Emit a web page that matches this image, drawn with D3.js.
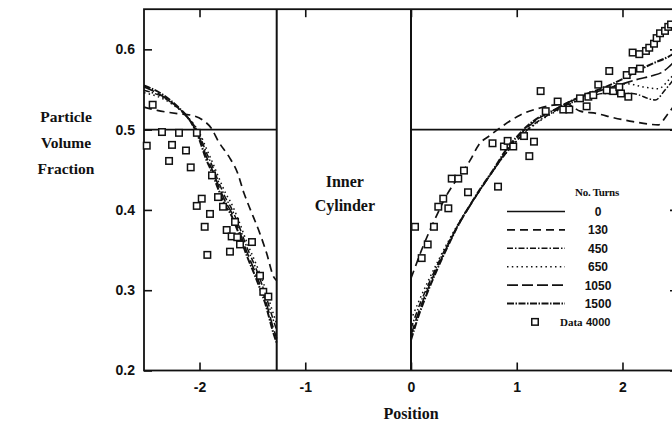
<!DOCTYPE html>
<html>
<head>
<meta charset="utf-8">
<script src="https://cdn.jsdelivr.net/npm/d3@7"></script>
<style>
	body { margin: 0; background: #fff; }
	svg { display: block; }
	.tick text { font-family: "Liberation Sans", Arial, sans-serif; font-weight: bold; font-size: 14px; fill: #111; }
	.serif { font-family: "Liberation Serif", "Times New Roman", serif; font-weight: bold; fill: #111; }
	.sans { font-family: "Liberation Sans", Arial, sans-serif; font-weight: bold; fill: #111; }
</style>
</head>
<body>
<div id="chart"></div>
<script>
//////////////////////////// data /////////////////////////////////////////

const turns = ["0", "130", "450", "650", "1050", "1500"];
const xTicks = [-2, -1, 0, 1, 2];
const yTicks = [0.2, 0.3, 0.4, 0.5, 0.6];
const innerCylinder = [-1.27, 0]; // walls of the inner cylinder

// outer gap, left of the cylinder
const left0 = [[-2.525, 0.5], [-1.27, 0.5]];
const left130 = [[-2.525, 0.528], [-2.40, 0.524], [-2.21, 0.520], [-2.08, 0.518], [-1.97, 0.512], [-1.89, 0.502], [-1.82, 0.485], [-1.72, 0.466], [-1.64, 0.446], [-1.58, 0.421], [-1.53, 0.404], [-1.43, 0.371], [-1.365, 0.346], [-1.30, 0.317], [-1.27, 0.312]];
const left450 = [[-2.525, 0.549], [-2.34, 0.540], [-2.21, 0.528], [-2.115, 0.516], [-2.05, 0.505], [-2.0, 0.493], [-1.94, 0.473], [-1.88, 0.455], [-1.82, 0.435], [-1.75, 0.414], [-1.71, 0.405], [-1.63, 0.381], [-1.55, 0.353], [-1.46, 0.325], [-1.38, 0.296], [-1.30, 0.262], [-1.27, 0.250]];
const left650 = [[-2.525, 0.546], [-2.34, 0.538], [-2.21, 0.527], [-2.115, 0.516], [-2.05, 0.506], [-2.0, 0.496], [-1.94, 0.478], [-1.88, 0.460], [-1.82, 0.441], [-1.75, 0.420], [-1.71, 0.411], [-1.63, 0.387], [-1.55, 0.359], [-1.46, 0.331], [-1.38, 0.303], [-1.30, 0.270], [-1.27, 0.258]];
const left1050 = [[-2.525, 0.553], [-2.34, 0.541], [-2.21, 0.528], [-2.115, 0.515], [-2.05, 0.503], [-2.0, 0.490], [-1.94, 0.468], [-1.88, 0.450], [-1.82, 0.430], [-1.75, 0.409], [-1.71, 0.400], [-1.63, 0.376], [-1.55, 0.347], [-1.46, 0.318], [-1.38, 0.289], [-1.30, 0.252], [-1.27, 0.240]];
const left1500 = [[-2.525, 0.555], [-2.34, 0.543], [-2.21, 0.529], [-2.115, 0.516], [-2.05, 0.502], [-2.0, 0.487], [-1.94, 0.464], [-1.88, 0.446], [-1.82, 0.425], [-1.75, 0.404], [-1.71, 0.396], [-1.63, 0.371], [-1.55, 0.342], [-1.46, 0.313], [-1.38, 0.284], [-1.30, 0.246], [-1.27, 0.234]];

// gap right of the cylinder
const right0 = [[0, 0.5], [2.525, 0.5]];
const right130 = [[0, 0.315], [0.04, 0.329], [0.10, 0.350], [0.18, 0.375], [0.26, 0.398], [0.34, 0.419], [0.45, 0.441], [0.56, 0.462], [0.64, 0.481], [0.75, 0.493], [0.84, 0.502], [0.94, 0.511], [1.03, 0.518], [1.22, 0.527], [1.47, 0.532], [1.60, 0.523], [1.76, 0.520], [1.91, 0.515], [2.10, 0.510], [2.34, 0.506], [2.42, 0.518], [2.525, 0.537]];
const right450 = [[0, 0.252], [0.07, 0.278], [0.164, 0.307], [0.258, 0.334], [0.353, 0.359], [0.447, 0.382], [0.558, 0.406], [0.669, 0.428], [0.778, 0.449], [0.889, 0.469], [1.0, 0.486], [1.094, 0.499], [1.22, 0.512], [1.346, 0.522], [1.472, 0.531], [1.6, 0.537], [1.835, 0.545], [2.09, 0.545], [2.31, 0.537], [2.40, 0.549], [2.525, 0.570]];
const right650 = [[0, 0.263], [0.07, 0.285], [0.164, 0.312], [0.258, 0.337], [0.353, 0.361], [0.447, 0.383], [0.558, 0.406], [0.669, 0.428], [0.778, 0.449], [0.889, 0.469], [1.0, 0.486], [1.094, 0.498], [1.22, 0.511], [1.346, 0.521], [1.472, 0.530], [1.6, 0.538], [1.75, 0.546], [1.9, 0.554], [2.05, 0.557], [2.2, 0.553], [2.34, 0.551], [2.437, 0.562], [2.525, 0.575]];
const right1050 = [[0, 0.244], [0.07, 0.272], [0.164, 0.303], [0.258, 0.331], [0.353, 0.357], [0.447, 0.381], [0.558, 0.405], [0.669, 0.428], [0.778, 0.449], [0.889, 0.471], [1.0, 0.489], [1.094, 0.502], [1.22, 0.515], [1.346, 0.524], [1.472, 0.533], [1.6, 0.540], [1.8, 0.549], [2.0, 0.557], [2.153, 0.563], [2.279, 0.567], [2.38, 0.572], [2.437, 0.578], [2.525, 0.590]];
const right1500 = [[0, 0.238], [0.069, 0.267], [0.164, 0.300], [0.258, 0.329], [0.353, 0.356], [0.447, 0.381], [0.558, 0.406], [0.669, 0.429], [0.778, 0.450], [0.889, 0.473], [1.0, 0.491], [1.094, 0.504], [1.22, 0.516], [1.346, 0.524], [1.472, 0.533], [1.6, 0.541], [1.835, 0.553], [2.0, 0.563], [2.153, 0.574], [2.279, 0.582], [2.437, 0.591], [2.525, 0.598]];

// measured data after 4000 turns
const dataLeft = [[-2.443, 0.531], [-2.499, 0.480], [-2.355, 0.497], [-2.26, 0.481], [-2.194, 0.496], [-2.288, 0.461], [-2.128, 0.474], [-2.083, 0.453], [-2.025, 0.496], [-1.882, 0.443], [-2.026, 0.405], [-1.979, 0.414], [-1.901, 0.395], [-1.825, 0.416], [-1.778, 0.404], [-1.951, 0.379], [-1.926, 0.344], [-1.743, 0.375], [-1.712, 0.348], [-1.696, 0.367], [-1.643, 0.366], [-1.617, 0.357], [-1.504, 0.360], [-1.664, 0.385], [-1.428, 0.318], [-1.397, 0.298], [-1.349, 0.292]];
const dataRight = [[0.038, 0.379], [0.101, 0.340], [0.158, 0.357], [0.217, 0.379], [0.258, 0.404], [0.305, 0.414], [0.353, 0.402], [0.385, 0.439], [0.447, 0.439], [0.501, 0.449], [0.539, 0.422], [0.771, 0.483], [0.823, 0.429], [0.879, 0.479], [0.914, 0.486], [0.967, 0.479], [1.069, 0.492], [1.119, 0.467], [1.163, 0.485], [1.226, 0.548], [1.274, 0.523], [1.387, 0.535], [1.440, 0.525], [1.497, 0.525], [1.598, 0.539], [1.661, 0.529], [1.677, 0.541], [1.724, 0.543], [1.771, 0.556], [1.851, 0.549], [1.875, 0.573], [1.913, 0.548], [1.970, 0.553], [1.986, 0.545], [2.040, 0.568], [2.055, 0.541], [2.093, 0.573], [2.096, 0.596], [2.159, 0.594], [2.165, 0.576], [2.222, 0.598], [2.253, 0.602], [2.298, 0.607], [2.323, 0.614], [2.355, 0.620], [2.402, 0.623], [2.433, 0.628], [2.459, 0.631]];

//////////////////////////// drawing ///////////////////////////////////////

const createChart = () => {
	let dimensions = {
		width: 672,
		height: 426,
		margin: { top: 9.2, right: -6, bottom: 55.5, left: 144 }
	};
	dimensions.boundedWidth = dimensions.width - dimensions.margin.left - dimensions.margin.right;
	dimensions.boundedHeight = dimensions.height - dimensions.margin.top - dimensions.margin.bottom;

	const wrapper = d3.select("#chart").append("svg")
		.attr("width", dimensions.width)
		.attr("height", dimensions.height);

	const bounds = wrapper.append("g")
		.attr("transform", `translate(${dimensions.margin.left},${dimensions.margin.top})`);

	//////////////////////////// scales ////////////////////////////////////
	const xScale = d3.scaleLinear().domain([-2.525, 2.525]).range([0, dimensions.boundedWidth]);
	const yScale = d3.scaleLinear().domain([0.2, 0.65]).range([dimensions.boundedHeight, 0]);

	// line styles per number of turns
	const dashes = { "0": null, "130": "8,5", "450": "6,2,1.5,2", "650": "1.5,3.3", "1050": "11,4", "1500": "7,1.5,1.5,1.5" };
	const widths = { "0": 1.6, "130": 1.7, "450": 1.5, "650": 1.5, "1050": 1.6, "1500": 2 };

	//////////////////////////// axes //////////////////////////////////////
	const xAxis = bounds.append("g")
		.attr("transform", `translate(0,${dimensions.boundedHeight})`)
		.call(d3.axisBottom(xScale).tickValues(xTicks).tickSize(-8).tickPadding(12).tickFormat(d3.format("d")));
	const xTop = bounds.append("g")
		.call(d3.axisTop(xScale).tickValues(xTicks).tickSize(-8).tickFormat(""));
	const yAxis = bounds.append("g")
		.call(d3.axisLeft(yScale).tickValues(yTicks).tickSize(-8).tickPadding(9).tickFormat(d3.format(".1f")));
	const yRight = bounds.append("g")
		.attr("transform", `translate(${dimensions.boundedWidth},0)`)
		.call(d3.axisRight(yScale).tickValues(yTicks).tickSize(-8).tickFormat(""));
	[xAxis, xTop, yAxis, yRight].forEach(a => {
		a.select(".domain").remove();
		a.selectAll(".tick line").attr("stroke", "#111").attr("stroke-width", 1.6);
	});
	xAxis.selectAll(".tick text").text(d => d3.format("d")(d).replace("−", "-"));

	// frame
	bounds.append("rect")
		.attr("width", dimensions.boundedWidth)
		.attr("height", dimensions.boundedHeight)
		.attr("fill", "none")
		.attr("stroke", "#111")
		.attr("stroke-width", 1.8);

	// inner cylinder walls
	bounds.selectAll(".wall")
		.data(innerCylinder)
		.join("line")
		.attr("class", "wall")
		.attr("x1", d => xScale(d)).attr("x2", d => xScale(d))
		.attr("y1", 0).attr("y2", dimensions.boundedHeight)
		.attr("stroke", "#111")
		.attr("stroke-width", 2);

	//////////////////////////// lines /////////////////////////////////////
	const lineGen = d3.line()
		.x(d => xScale(d[0]))
		.y(d => yScale(d[1]))
		.curve(d3.curveMonotoneX);

	const curves = [
		{ t: "0", pts: left0 }, { t: "0", pts: right0 },
		{ t: "130", pts: left130 }, { t: "130", pts: right130 },
		{ t: "450", pts: left450 }, { t: "450", pts: right450 },
		{ t: "650", pts: left650 }, { t: "650", pts: right650 },
		{ t: "1050", pts: left1050 }, { t: "1050", pts: right1050 },
		{ t: "1500", pts: left1500 }, { t: "1500", pts: right1500 }
	];

	bounds.selectAll(".curve")
		.data(curves)
		.join("path")
		.attr("class", "curve")
		.attr("d", d => lineGen(d.pts))
		.attr("fill", "none")
		.attr("stroke", "#111")
		.attr("stroke-width", d => widths[d.t])
		.attr("stroke-dasharray", d => dashes[d.t]);

	//////////////////////////// data squares //////////////////////////////
	const sq = 6.5;
	bounds.selectAll(".dot")
		.data(dataLeft.concat(dataRight))
		.join("rect")
		.attr("class", "dot")
		.attr("x", d => xScale(d[0]) - sq / 2)
		.attr("y", d => yScale(d[1]) - sq / 2)
		.attr("width", sq).attr("height", sq)
		.attr("fill", "#fff")
		.attr("stroke", "#111")
		.attr("stroke-width", 1.5);

	//////////////////////////// texts /////////////////////////////////////
	const yTitle = ["Particle", "Volume", "Fraction"];
	wrapper.selectAll(".ytitle")
		.data(yTitle)
		.join("text")
		.attr("class", "ytitle serif")
		.attr("x", 66)
		.attr("y", (d, i) => 122 + i * 26)
		.attr("text-anchor", "middle")
		.style("font-size", "15.5px")
		.text(d => d);

	wrapper.append("text")
		.attr("class", "serif")
		.attr("x", dimensions.margin.left + xScale(0))
		.attr("y", 419)
		.attr("text-anchor", "middle")
		.style("font-size", "16px")
		.text("Position");

	const cx = dimensions.margin.left + (xScale(innerCylinder[0]) + xScale(innerCylinder[1])) / 2;
	wrapper.selectAll(".inner")
		.data(["Inner", "Cylinder"])
		.join("text")
		.attr("class", "inner serif")
		.attr("x", cx + 1)
		.attr("y", (d, i) => 187 + i * 24)
		.attr("text-anchor", "middle")
		.style("font-size", "16px")
		.text(d => d);

	//////////////////////////// legend ////////////////////////////////////
	const legend = wrapper.append("g");
	legend.append("text")
		.attr("class", "serif")
		.attr("x", 597).attr("y", 196)
		.attr("text-anchor", "middle")
		.style("font-size", "11px")
		.style("letter-spacing", "-0.3px")
		.text("No. Turns");

	const rowY = (i) => 211.5 + i * 18.4;
	const rows = legend.selectAll(".row")
		.data(turns)
		.join("g")
		.attr("class", "row")
		.attr("transform", (d, i) => `translate(0,${rowY(i)})`);
	rows.append("line")
		.attr("x1", 507).attr("x2", 565)
		.attr("stroke", "#111")
		.attr("stroke-width", d => widths[d])
		.attr("stroke-dasharray", d => dashes[d]);
	rows.append("text")
		.attr("class", "sans")
		.attr("x", 598).attr("y", 4.5)
		.attr("text-anchor", "middle")
		.style("font-size", "12px")
		.text(d => d);

	const dataRow = legend.append("g").attr("transform", `translate(0,${rowY(turns.length)})`);
	dataRow.append("rect")
		.attr("x", 535 - sq / 2).attr("y", -sq / 2)
		.attr("width", sq).attr("height", sq)
		.attr("fill", "#fff").attr("stroke", "#111").attr("stroke-width", 1.5);
	dataRow.append("text")
		.attr("class", "serif")
		.attr("x", 560).attr("y", 4)
		.style("font-size", "11px")
		.text("Data");
	dataRow.append("text")
		.attr("class", "sans")
		.attr("x", 586).attr("y", 4)
		.style("font-size", "11px")
		.text("4000");
};

createChart();
</script>
</body>
</html>
